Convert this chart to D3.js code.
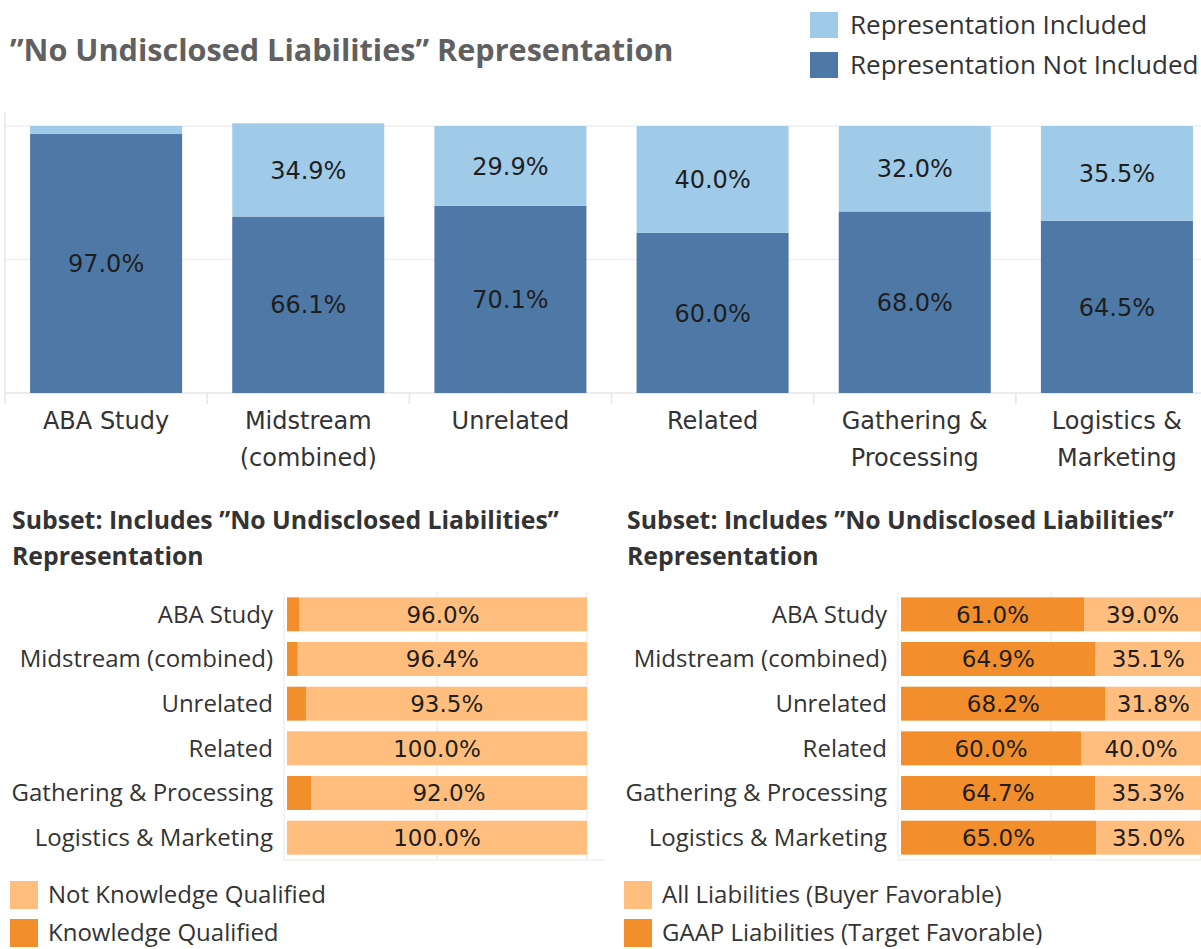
<!DOCTYPE html>
<meta charset="utf-8">
<script src="https://d3js.org/d3.v7.min.js"></script>
<style>
  body { margin: 0; background: #fff; }
  text { font-family: "Open Sans", sans-serif; }
  .num, .cat { font-family: "DejaVu Sans", sans-serif; }
</style>
<div id="chart"></div>
<script>
// top chart data
var groups = ["ABA Study", "Midstream\n(combined)", "Unrelated", "Related", "Gathering &\nProcessing", "Logistics &\nMarketing"];
var notIncluded = [97.0, 66.1, 70.1, 60.0, 68.0, 64.5];
var included = [3.0, 34.9, 29.9, 40.0, 32.0, 35.5];

// bottom charts data
var rows = ["ABA Study", "Midstream (combined)", "Unrelated", "Related", "Gathering & Processing", "Logistics & Marketing"];
var knowledgeQualified = [4.0, 3.6, 6.5, 0.0, 8.0, 0.0];
var notKnowledgeQualified = [96.0, 96.4, 93.5, 100.0, 92.0, 100.0];
var gaapLiabilities = [61.0, 64.9, 68.2, 60.0, 64.7, 65.0];
var allLiabilities = [39.0, 35.1, 31.8, 40.0, 35.3, 35.0];

var W = 1201, H = 949;
var darkBlue = "#4e79a7", lightBlue = "#a0cbe8";
var darkOrange = "#f28e2b", lightOrange = "#ffbe7d";
var grid = "#efefef", ink = "#333333", labelInk = "#1e1e1e";

var svg = d3.select("#chart").append("svg")
  .attr("width", W).attr("height", H);
svg.append("rect").attr("width", W).attr("height", H).attr("fill", "#fff");

// title
svg.append("text")
  .attr("x", 10).attr("y", 61)
  .attr("font-size", 30.6).attr("font-weight", 700).attr("fill", "#606060")
  .text("\u201dNo Undisclosed Liabilities\u201d Representation");

// top legend
var topLegend = [["Representation Included", lightBlue], ["Representation Not Included", darkBlue]];
topLegend.forEach(function (d, i) {
  var g = svg.append("g").attr("transform", "translate(810," + (12 + i * 40) + ")");
  g.append("rect").attr("width", 28).attr("height", 26).attr("fill", d[1]);
  g.append("text").attr("x", 40).attr("y", 13).attr("dy", "0.35em")
    .attr("font-size", 26).attr("fill", ink).text(d[0]);
});

// ---- top stacked column chart ----
var x = d3.scaleBand().domain(groups).range([5, 1218]).paddingInner(0.248).paddingOuter(0.124);
var y = d3.scaleLinear().domain([0, 100]).range([393, 126]);

var topG = svg.append("g");
[50, 100].forEach(function (v) {
  topG.append("line").attr("x1", 5).attr("x2", W).attr("y1", y(v)).attr("y2", y(v))
    .attr("stroke", grid).attr("stroke-width", 1.5);
});
topG.append("line").attr("x1", 5).attr("x2", 5).attr("y1", 112).attr("y2", 393)
  .attr("stroke", "#e6e6e6").attr("stroke-width", 1.5);
topG.append("line").attr("x1", 5).attr("x2", W).attr("y1", 393).attr("y2", 393)
  .attr("stroke", "#e6e6e6").attr("stroke-width", 1.5);
groups.forEach(function (g) {
  var xd = x(g) - (x.step() - x.bandwidth()) / 2;
  topG.append("line").attr("x1", xd).attr("x2", xd).attr("y1", 393).attr("y2", 404)
    .attr("stroke", "#e6e6e6").attr("stroke-width", 1.5);
});

var topData = groups.map(function (g, i) { return { g: g, notIncluded: notIncluded[i], included: included[i] }; });
var topStack = d3.stack().keys(["notIncluded", "included"])(topData);
var topColor = { notIncluded: darkBlue, included: lightBlue };

topStack.forEach(function (s) {
  topG.selectAll(null).data(s).enter().append("rect")
    .attr("x", function (d) { return x(d.data.g); })
    .attr("width", x.bandwidth())
    .attr("y", function (d) { return y(d[1]); })
    .attr("height", function (d) { return y(d[0]) - y(d[1]); })
    .attr("fill", topColor[s.key]);
  topG.selectAll(null).data(s.filter(function (d) { return d[1] - d[0] >= 5; })).enter().append("text")
    .attr("class", "num")
    .attr("x", function (d) { return x(d.data.g) + x.bandwidth() / 2; })
    .attr("y", function (d) { return (y(d[0]) + y(d[1])) / 2; })
    .attr("dy", "0.36em").attr("text-anchor", "middle")
    .attr("font-size", 24).attr("fill", labelInk)
    .text(function (d) { return (d[1] - d[0]).toFixed(1) + "%"; });
});

groups.forEach(function (g) {
  var t = topG.append("text").attr("class", "cat").attr("text-anchor", "middle")
    .attr("font-size", 24).attr("fill", ink);
  g.split("\n").forEach(function (line, j) {
    t.append("tspan").attr("x", x(g) + x.bandwidth() / 2).attr("y", 429 + j * 37).text(line);
  });
});

// ---- bottom horizontal bar charts ----
function subsetChart(opts) {
  var g = svg.append("g");
  var t = g.append("text").attr("font-size", 24.8).attr("font-weight", 700).attr("fill", ink);
  t.append("tspan").attr("x", opts.titleX).attr("y", 529).text("Subset: Includes \u201dNo Undisclosed Liabilities\u201d");
  t.append("tspan").attr("x", opts.titleX).attr("y", 565).text("Representation");

  var yb = d3.scaleBand().domain(rows).range([592, 860]).paddingInner(0.24).paddingOuter(0.12);
  var xb = d3.scaleLinear().domain([0, 100]).range([opts.x0, opts.x0 + 300]);

  [50, 100].forEach(function (v) {
    g.append("line").attr("x1", xb(v)).attr("x2", xb(v)).attr("y1", 592).attr("y2", 860)
      .attr("stroke", grid).attr("stroke-width", 1.5);
  });
  g.append("line").attr("x1", opts.x0 - 3).attr("x2", opts.x0 - 3).attr("y1", 592).attr("y2", 860)
    .attr("stroke", grid).attr("stroke-width", 1.5);
  g.append("line").attr("x1", opts.x0 - 3).attr("x2", opts.axisEnd).attr("y1", 860).attr("y2", 860)
    .attr("stroke", grid).attr("stroke-width", 1.5);

  var data = rows.map(function (r, i) {
    var o = { r: r };
    o[opts.keys[0]] = opts.values[0][i];
    o[opts.keys[1]] = opts.values[1][i];
    return o;
  });
  var stack = d3.stack().keys(opts.keys)(data);
  stack.forEach(function (s, k) {
    g.selectAll(null).data(s).enter().append("rect")
      .attr("y", function (d) { return yb(d.data.r); })
      .attr("height", yb.bandwidth())
      .attr("x", function (d) { return xb(d[0]); })
      .attr("width", function (d) { return xb(d[1]) - xb(d[0]); })
      .attr("fill", opts.colors[k]);
    g.selectAll(null).data(s.filter(function (d) { return d[1] - d[0] >= 15; })).enter().append("text")
      .attr("class", "num")
      .attr("x", function (d) { return (xb(d[0]) + xb(d[1])) / 2; })
      .attr("y", function (d) { return yb(d.data.r) + yb.bandwidth() / 2; })
      .attr("dy", "0.36em").attr("text-anchor", "middle")
      .attr("font-size", 23).attr("fill", labelInk)
      .text(function (d) { return (d[1] - d[0]).toFixed(1) + "%"; });
  });

  g.selectAll(null).data(rows).enter().append("text")
    .attr("x", opts.x0 - 14)
    .attr("y", function (r) { return yb(r) + yb.bandwidth() / 2; })
    .attr("dy", "0.35em").attr("text-anchor", "end")
    .attr("font-size", 24).attr("fill", ink)
    .text(function (r) { return r; });

  opts.legend.forEach(function (d, i) {
    var lg = g.append("g").attr("transform", "translate(" + opts.legendX + "," + (881 + i * 38) + ")");
    lg.append("rect").attr("width", 28).attr("height", 28).attr("fill", d[1]);
    lg.append("text").attr("x", 38).attr("y", 14).attr("dy", "0.35em")
      .attr("font-size", 24).attr("fill", ink).text(d[0]);
  });
}

subsetChart({
  titleX: 12, x0: 287, axisEnd: 605,
  keys: ["qualified", "notQualified"],
  values: [knowledgeQualified, notKnowledgeQualified],
  colors: [darkOrange, lightOrange],
  legendX: 10,
  legend: [["Not Knowledge Qualified", lightOrange], ["Knowledge Qualified", darkOrange]]
});

subsetChart({
  titleX: 627, x0: 901, axisEnd: W,
  keys: ["gaap", "all"],
  values: [gaapLiabilities, allLiabilities],
  colors: [darkOrange, lightOrange],
  legendX: 624,
  legend: [["All Liabilities (Buyer Favorable)", lightOrange], ["GAAP Liabilities (Target Favorable)", darkOrange]]
});
</script>
